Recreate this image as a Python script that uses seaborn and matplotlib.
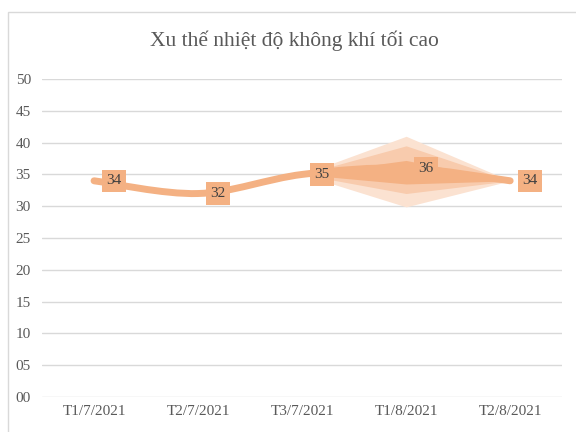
import numpy as np
import matplotlib
matplotlib.use("Agg")
import matplotlib.pyplot as plt
from matplotlib.path import Path
from matplotlib.patches import PathPatch, Rectangle
import seaborn as sns

# --- DATA ---
periods = ["T1/7/2021", "T2/7/2021", "T3/7/2021", "T1/8/2021", "T2/8/2021"]
temps = [34, 32, 35, 36, 34]

# forecast fan (T3/7 -> T2/8)
fan_periods = ["T3/7/2021", "T1/8/2021", "T2/8/2021"]
fan_outer_hi = [35, 41.0, 34]
fan_outer_lo = [35, 29.9, 34]
fan_mid_hi = [35, 39.5, 34]
fan_mid_lo = [35, 32.0, 34]
fan_inner_hi = [35, 37.2, 34]
fan_inner_lo = [35, 33.5, 34]

y_ticks = [0, 5, 10, 15, 20, 25, 30, 35, 40, 45, 50]
y_labels = ["00", "05", "10", "15", "20", "25", "30", "35", "40", "45", "50"]

title = "Xu thế nhiệt độ không khí tối cao"

# --- STYLE ---
sns.set_theme(style="white")
plt.rcParams['font.family'] = ['Liberation Serif', 'DejaVu Serif']
line_color = "#F4B183"
text_color = "#595959"
grid_color = "#D9D9D9"


def smooth_path(xs, ys):
    # Catmull-Rom style bezier through the data points (like Excel smoothing)
    pts = np.column_stack([xs, ys]).astype(float)
    ext = np.vstack([pts[0], pts, pts[-1]])
    verts = [pts[0]]
    codes = [Path.MOVETO]
    for i in range(len(pts) - 1):
        p0, p1, p2, p3 = ext[i], ext[i + 1], ext[i + 2], ext[i + 3]
        c1 = p1 + (p2 - p0) / 6.0
        c2 = p2 - (p3 - p1) / 6.0
        verts += [c1, c2, p2]
        codes += [Path.CURVE4] * 3
    return Path(verts, codes)


fig = plt.figure(figsize=(5.76, 4.32), dpi=100)
ax = fig.add_axes([0.073, 0.081, 0.903, 0.736])

x = np.arange(len(periods))
fx = np.array([periods.index(p) for p in fan_periods])

# fan layers
ax.fill_between(fx, fan_outer_lo, fan_outer_hi, color="#FBE2D1", lw=0, zorder=2)
ax.fill_between(fx, fan_mid_lo, fan_mid_hi, color="#F8CBAD", lw=0, zorder=2)
ax.fill_between(fx, fan_inner_lo, fan_inner_hi, color="#F4B183", lw=0, zorder=2)

# smoothed main line
line = PathPatch(smooth_path(x, temps), fill=False, ec=line_color, lw=5,
                 capstyle="round", joinstyle="round", zorder=3)
ax.add_patch(line)

# data labels
for xi, v in zip(x, temps):
    ax.text(xi + 0.19, v, str(v), ha="center", va="center", fontsize=11,
            color="#404040", zorder=5,
            bbox=dict(boxstyle="square,pad=0.3", fc=line_color, ec="none"))

ax.set_xlim(-0.5, len(periods) - 0.5)
ax.set_ylim(0, 50)
ax.set_xticks(x)
ax.set_xticklabels(periods, fontsize=11, color=text_color)
ax.set_yticks(y_ticks)
ax.set_yticklabels(y_labels, fontsize=11, color=text_color)
ax.tick_params(axis="both", length=0)
ax.tick_params(axis="y", pad=8)
ax.tick_params(axis="x", pad=6)
ax.yaxis.grid(True, color=grid_color, lw=1)
ax.xaxis.grid(False)
ax.set_axisbelow(True)
sns.despine(ax=ax, left=True, bottom=True)

fig.text(294 / 576, 1 - 41 / 432, title, ha="center", va="center",
         fontsize=15.5, color=text_color)

# chart area border
fig.add_artist(Rectangle((8 / 576, -0.1), 1.2, 1.1 - 12 / 432,
                         transform=fig.transFigure, fill=False,
                         ec=grid_color, lw=1))

fig.savefig("out.png", dpi=100)
